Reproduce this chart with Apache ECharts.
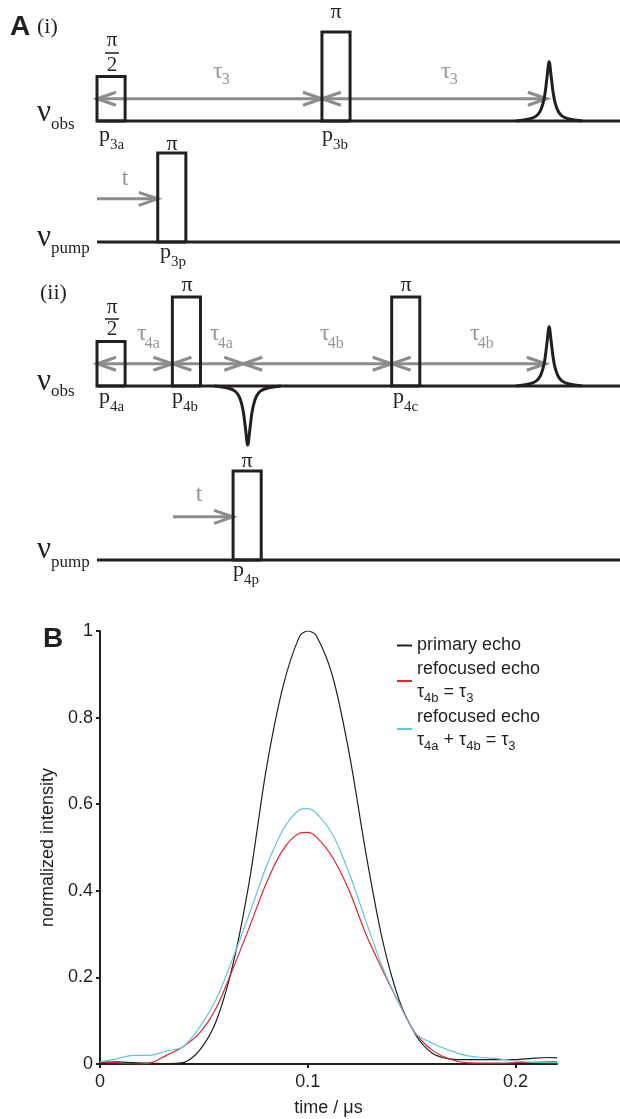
<!DOCTYPE html>
<html>
<head>
<meta charset="utf-8">
<script src="https://cdn.jsdelivr.net/npm/echarts@6/dist/echarts.min.js"></script>
<style>
  html, body { margin: 0; padding: 0; background: #fff; }
  #main { width: 620px; height: 1119px; }
</style>
</head>
<body>
<div id="main"></div>
<script>
// ---------- panel B: echo traces ----------
var timeUs = [0, 0.008, 0.016, 0.024, 0.032, 0.04, 0.048, 0.056, 0.064, 0.072, 0.08, 0.088, 0.096, 0.1,
  0.104, 0.112, 0.12, 0.128, 0.136, 0.144, 0.152, 0.16, 0.168, 0.176, 0.184, 0.192, 0.2, 0.208, 0.216, 0.22];
var primaryEcho = [0.003, 0.005, 0.003, 0.002, 0.001, 0.003, 0.032, 0.10, 0.23, 0.425, 0.68, 0.87, 0.987, 1.0,
  0.99, 0.895, 0.717, 0.487, 0.286, 0.148, 0.067, 0.025, 0.012, 0.01, 0.01, 0.01, 0.01, 0.013, 0.015, 0.014];
var refocusedB = [0.005, 0.003, 0.0, 0.002, 0.02, 0.04, 0.072, 0.13, 0.22, 0.317, 0.417, 0.494, 0.533, 0.535,
  0.525, 0.477, 0.40, 0.30, 0.217, 0.14, 0.07, 0.032, 0.012, 0.003, 0.002, 0.002, 0.003, 0.004, 0.005, 0.005];
var refocusedAB = [0.005, 0.012, 0.02, 0.02, 0.03, 0.04, 0.085, 0.15, 0.245, 0.348, 0.455, 0.54, 0.587, 0.59,
  0.58, 0.53, 0.44, 0.33, 0.224, 0.14, 0.07, 0.048, 0.032, 0.02, 0.015, 0.012, 0.007, 0.004, 0.003, 0.003];
var seriesNames = ['primary echo', 'refocused echo τ4b = τ3', 'refocused echo τ4a + τ4b = τ3'];
var xTicks = [0, 0.1, 0.2];
var yTicks = [0, 0.2, 0.4, 0.6, 0.8, 1];

// ---------- panel A: pulse sequences (schematic units, tau3 = 10, pi pulse = 2) ----------
var pulseWidth = 1.25;
var obsPulsesI = [[0, 1], [10, 2]];          // [start, height]
var pumpPulsesI = [[2.7, 2]];
var obsPulsesII = [[0, 1], [3.35, 2], [13.1, 2]];
var pumpPulsesII = [[6.05, 2]];
var echoesI = [[20.1, 1]];                    // [position, sign]
var echoesII = [[6.7, -1], [20.1, 1]];
var echoDx = [-1.47, -0.89, -0.58, -0.4, -0.27, -0.18, -0.09, 0, 0.09, 0.18, 0.27, 0.4, 0.58, 0.89, 1.47];
var echoAmp = [0, 0.045, 0.11, 0.22, 0.4, 0.63, 1.0, 1.33, 1.0, 0.63, 0.4, 0.22, 0.11, 0.045, 0];
var tauArrowsI = [[0, 10], [10, 20]];
var tauArrowsII = [[0, 3.35], [3.35, 6.5], [6.5, 13.1], [13.1, 19.95]];
var tArrowI = [[0, 2.7]];
var tArrowII = [[3.38, 6.05]];
var seqEnd = 23.25;

var INK = '#231f20', GRAY = '#8c8c8c', TGRAY = '#969696';
var RED = '#e8222a', CYAN = '#62c6d8';
var SERIF = '"Liberation Serif", "DejaVu Serif", serif';
var SANS = '"Liberation Sans", Arial, sans-serif';

var traces = [
  { base: 121, pulses: obsPulsesI, echoes: echoesI, arrows: tauArrowsI, single: [] },
  { base: 242, pulses: pumpPulsesI, echoes: [], arrows: [], single: tArrowI },
  { base: 386, pulses: obsPulsesII, echoes: echoesII, arrows: tauArrowsII, single: [] },
  { base: 560, pulses: pumpPulsesII, echoes: [], arrows: [], single: tArrowII }
];
var U = 44.5;

function renderArrow(params, api) {
  var a = api.coord([api.value(0), api.value(2)]);
  var b = api.coord([api.value(1), api.value(2)]);
  var both = api.value(3) === 1;
  function st() { return { stroke: GRAY, lineWidth: 3, fill: 'none' }; }
  var kids = [
    { type: 'line', shape: { x1: a[0], y1: a[1], x2: b[0] - 2, y2: b[1] }, style: st() },
    { type: 'polyline', shape: { points: [[b[0] - 19, b[1] - 6.5], [b[0], b[1]], [b[0] - 19, b[1] + 6.5]] }, style: st() }
  ];
  if (both) {
    kids.push({ type: 'polyline', shape: { points: [[a[0] + 19, a[1] - 6.5], [a[0], a[1]], [a[0] + 19, a[1] + 6.5]] }, style: st() });
  }
  return { type: 'group', children: kids };
}

var grids = [], xAxes = [], yAxes = [], series = [];
traces.forEach(function (tr, i) {
  grids.push({ left: 97, right: 0, top: tr.base - 2.2 * U, height: 3.8 * U });
  xAxes.push({ type: 'value', gridIndex: i, min: 0, max: seqEnd, show: false });
  yAxes.push({ type: 'value', gridIndex: i, min: -1.6, max: 2.2, show: false });
  var line = { color: INK, width: 3, join: 'miter', cap: 'butt' };
  series.push({ type: 'line', xAxisIndex: i, yAxisIndex: i, symbol: 'none', silent: true, z: 3,
    data: [[0, 0], [seqEnd, 0]], lineStyle: line });
  tr.pulses.forEach(function (p) {
    var s = p[0], h = p[1], e = s + pulseWidth;
    series.push({ type: 'line', xAxisIndex: i, yAxisIndex: i, symbol: 'none', silent: true, z: 4,
      data: [[e, 0], [s, 0], [s, h], [e, h], [e, 0]], lineStyle: line });
  });
  tr.echoes.forEach(function (ec) {
    series.push({ type: 'line', xAxisIndex: i, yAxisIndex: i, symbol: 'none', silent: true, z: 4, smooth: 0.35,
      data: echoDx.map(function (d, k) { return [ec[0] + d, ec[1] * echoAmp[k]]; }),
      lineStyle: { color: INK, width: 3 } });
  });
  var arrowData = tr.arrows.map(function (a) { return [a[0], a[1], 0.5, 1]; })
    .concat(tr.single.map(function (a) { return [a[0], a[1], 0.97, 0]; }));
  if (arrowData.length) {
    series.push({ type: 'custom', xAxisIndex: i, yAxisIndex: i, silent: true, z: 2,
      renderItem: renderArrow, encode: { x: [0, 1], y: 2 }, data: arrowData });
  }
});

// panel B
grids.push({ left: 100, top: 631, width: 457, height: 433 });
var axisText = { fontFamily: SANS, fontSize: 18, color: INK };
xAxes.push({
  type: 'value', gridIndex: 4, min: 0, max: 0.22,
  axisLine: { show: true, onZero: false, lineStyle: { color: INK, width: 2 } },
  axisTick: { show: true, inside: false, length: 4, customValues: xTicks, lineStyle: { color: INK, width: 2 } },
  axisLabel: Object.assign({ margin: 9, customValues: xTicks,
    formatter: function (v) { return String(Math.round(v * 10) / 10); } }, axisText),
  splitLine: { show: false },
  name: 'time / μs', nameLocation: 'middle', nameGap: 35, nameTextStyle: axisText
});
yAxes.push({
  type: 'value', gridIndex: 4, min: 0, max: 1,
  axisLine: { show: true, onZero: false, lineStyle: { color: INK, width: 2 } },
  axisTick: { show: true, inside: false, length: 4, customValues: yTicks, lineStyle: { color: INK, width: 2 } },
  axisLabel: Object.assign({ margin: 7, customValues: yTicks,
    formatter: function (v) { return String(Math.round(v * 10) / 10); } }, axisText),
  splitLine: { show: false },
  name: 'normalized intensity', nameLocation: 'middle', nameGap: 43, nameTextStyle: axisText
});
[[primaryEcho, INK], [refocusedB, RED], [refocusedAB, CYAN]].forEach(function (s, k) {
  series.push({
    name: seriesNames[k], type: 'line', xAxisIndex: 4, yAxisIndex: 4, symbol: 'none', smooth: 0.3,
    data: timeUs.map(function (t, j) { return [t, s[0][j]]; }),
    lineStyle: { color: s[1], width: 1.2 }, itemStyle: { color: s[1] }
  });
});
var legendText = {};
legendText[seriesNames[0]] = 'primary echo';
legendText[seriesNames[1]] = 'refocused echo\nτ{s|4b} = τ{s|3}';
legendText[seriesNames[2]] = 'refocused echo\nτ{s|4a} + τ{s|4b} = τ{s|3}';

// ---------- text of panel A ----------
var mctx = document.createElement('canvas').getContext('2d');
function textW(s, font) { mctx.font = font; return mctx.measureText(s).width; }
function txt(x, y, s, size, color, opt) {
  opt = opt || {};
  var font = (opt.bold ? 'bold ' : '') + size + 'px ' + (opt.family || SERIF);
  var al = opt.align || 'left';
  return { type: 'text', x: x, y: y, silent: true, z: 10,
    style: { text: s, font: font, fill: color || INK, align: al, textAlign: al,
      verticalAlign: 'middle', textVerticalAlign: 'middle' } };
}
function subLabel(x, y, main, sub, size, subSize, dy, color, kern) {
  var w = textW(main, size + 'px ' + SERIF);
  return [txt(x, y, main, size, color), txt(x + w + (kern || 0), y + dy, sub, subSize, color)];
}
function frac(cx, yNum, yBar, yDen) {
  return [txt(cx, yNum, 'π', 21, INK, { align: 'center' }),
    { type: 'rect', silent: true, z: 10, shape: { x: cx - 7, y: yBar - 0.75, width: 14, height: 1.5 }, style: { fill: INK } },
    txt(cx, yDen, '2', 21, INK, { align: 'center' })];
}
var labels = [].concat(
  [txt(10, 27, 'A', 28, INK, { bold: true, family: SANS }), txt(37, 27, '(i)', 22)],
  frac(112, 40.5, 53, 65),
  [txt(336, 12.5, 'π', 22, INK, { align: 'center' })],
  subLabel(213, 72, 'τ', '3', 24, 16, 8, TGRAY, -1),
  subLabel(441, 72, 'τ', '3', 24, 16, 8, TGRAY, -1),
  subLabel(37, 112.5, 'ν', 'obs', 31, 17, 12, INK, 0),
  subLabel(99, 135.5, 'p', '3a', 22, 15, 9.5, INK, 0),
  subLabel(322, 135.5, 'p', '3b', 22, 15, 9.5, INK, 0),
  [txt(172, 144, 'π', 22, INK, { align: 'center' }), txt(125, 179, 't', 24, TGRAY, { align: 'center' })],
  subLabel(37, 237.5, 'ν', 'pump', 31, 17, 11, INK, 0),
  subLabel(160, 252.5, 'p', '3p', 22, 15, 9.5, INK, 0),
  [txt(40, 293, '(ii)', 22)],
  frac(112, 307.5, 319, 329.5),
  [txt(187, 285, 'π', 22, INK, { align: 'center' }), txt(406, 285, 'π', 22, INK, { align: 'center' })],
  subLabel(137, 334, 'τ', '4a', 24, 16, 10, TGRAY, -2),
  subLabel(210, 334, 'τ', '4a', 24, 16, 10, TGRAY, -2),
  subLabel(320, 334, 'τ', '4b', 24, 16, 10, TGRAY, -2),
  subLabel(470, 334, 'τ', '4b', 24, 16, 10, TGRAY, -2),
  subLabel(37, 381.5, 'ν', 'obs', 31, 17, 10.5, INK, 0),
  subLabel(99, 397.5, 'p', '4a', 22, 15, 9.5, INK, 0),
  subLabel(172, 397.5, 'p', '4b', 22, 15, 9.5, INK, 0),
  subLabel(393, 397.5, 'p', '4c', 22, 15, 9.5, INK, 0),
  [txt(247, 461, 'π', 22, INK, { align: 'center' }), txt(199, 495, 't', 24, TGRAY, { align: 'center' })],
  subLabel(37, 549.5, 'ν', 'pump', 31, 17, 13, INK, 0),
  subLabel(233, 570.5, 'p', '4p', 22, 15, 9.5, INK, 0),
  [txt(43, 639, 'B', 28, INK, { bold: true, family: SANS })]
);

var chart = echarts.init(document.getElementById('main'), null, { renderer: 'canvas' });
chart.setOption({
  animation: false,
  backgroundColor: '#fff',
  grid: grids,
  xAxis: xAxes,
  yAxis: yAxes,
  legend: {
    data: seriesNames, left: 397, top: 634, orient: 'vertical', padding: 0,
    icon: 'rect', itemWidth: 15, itemHeight: 2, itemGap: 1, selectedMode: false,
    formatter: function (name) { return legendText[name]; },
    textStyle: { fontFamily: SANS, fontSize: 18, lineHeight: 23, color: INK,
      rich: { s: { fontFamily: SANS, fontSize: 13, padding: [12, 0, 0, 0] } } }
  },
  graphic: labels,
  series: series
});
</script>
</body>
</html>
